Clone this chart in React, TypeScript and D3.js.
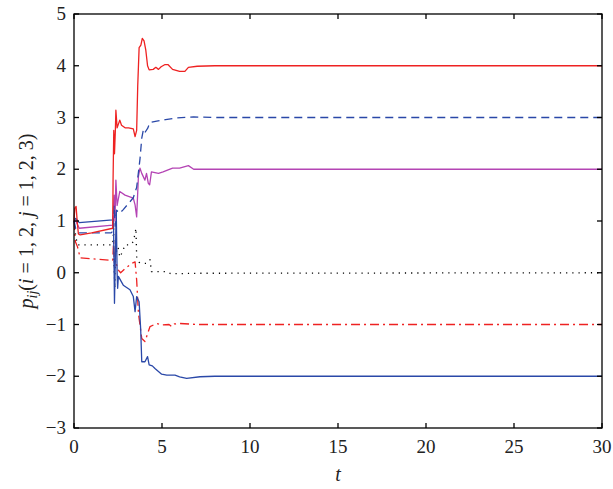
import React, { useEffect, useRef } from "react";
import * as d3 from "d3";

// t, value pairs
const redSolid: [number, number][] = [
  [0, 1.0], [0.05, 1.25], [0.12, 1.28], [0.18, 1.0], [0.25, 0.75], [0.35, 0.73], [1.0, 0.77], [2.2, 0.86],
  [2.22, 1.8], [2.26, 2.75], [2.3, 2.3], [2.35, 2.75], [2.38, 3.14], [2.45, 2.8], [2.6, 2.95], [2.7, 2.85],
  [2.9, 2.8], [3.1, 2.8], [3.37, 2.78], [3.47, 2.63], [3.56, 2.75], [3.62, 3.6], [3.7, 4.35], [3.8, 4.4],
  [3.88, 4.53], [3.98, 4.48], [4.08, 4.3], [4.18, 4.0], [4.27, 3.92], [4.5, 3.93], [4.65, 3.97], [4.8, 3.93],
  [4.95, 3.98], [5.15, 4.02], [5.35, 4.02], [5.6, 3.93], [6.0, 3.89], [6.3, 3.89], [6.5, 3.97], [7, 3.99],
  [8, 4.0], [30, 4.0],
];

const blueDashed: [number, number][] = [
  [0, 1.0], [0.1, 0.85], [0.3, 0.77], [2.1, 0.77], [2.2, 0.8], [2.28, 1.3], [2.34, 0.9], [2.42, 1.21],
  [2.6, 1.15], [2.8, 1.22], [3.0, 1.3], [3.37, 1.45], [3.56, 1.65], [3.75, 2.2], [3.85, 2.6], [3.95, 2.78],
  [4.05, 2.72], [4.2, 2.8], [4.3, 2.9], [4.7, 2.93], [5.2, 2.96], [5.8, 2.99], [6.8, 3.01], [8, 3.0], [30, 3.0],
];

const magenta: [number, number][] = [
  [0, 1.0], [0.1, 1.0], [0.3, 0.86], [2.2, 0.92], [2.28, 1.5], [2.33, 1.0], [2.38, 1.79], [2.45, 1.3],
  [2.6, 1.57], [2.9, 1.5], [3.37, 1.44], [3.47, 1.31], [3.56, 1.08], [3.66, 1.86], [3.75, 2.02], [3.85, 1.92],
  [4.03, 1.79], [4.12, 1.92], [4.22, 1.73], [4.3, 1.7], [4.4, 1.95], [4.8, 1.92], [5.06, 1.95], [5.6, 2.02],
  [6.0, 2.02], [6.5, 2.07], [6.8, 2.0], [7.5, 2.0], [30, 2.0],
];

const blueSolid: [number, number][] = [
  [0, 1.0], [0.1, 1.05], [0.3, 0.97], [2.2, 1.02], [2.24, 1.1], [2.27, 0.3], [2.3, -0.59], [2.35, 0.3],
  [2.4, 1.2], [2.45, 0.0], [2.48, -0.3], [2.52, -0.07], [2.8, -0.24], [3.18, -0.33], [3.37, -0.46],
  [3.47, -0.75], [3.56, -0.46], [3.7, -0.56], [3.79, -1.1], [3.85, -1.72], [4.03, -1.72], [4.18, -1.62],
  [4.27, -1.78], [4.45, -1.8], [4.6, -1.85], [4.98, -1.96], [5.27, -1.98], [5.74, -1.98], [6.0, -2.01],
  [6.4, -2.04], [7.16, -2.01], [8, -2.0], [30, -2.0],
];

const redDashDot: [number, number][] = [
  [0, 1.0], [0.08, 0.6], [0.2, 0.5], [0.35, 0.29], [1.0, 0.27], [2.2, 0.24], [2.25, 0.6], [2.3, 0.1],
  [2.33, 0.25], [2.52, 0.05], [2.65, 0.0], [2.9, 0.08], [3.27, 0.18], [3.47, 0.21], [3.56, -0.14],
  [3.66, -0.78], [3.85, -1.27], [4.03, -1.33], [4.32, -1.04], [4.7, -0.98], [5.0, -1.01], [5.4, -1.0],
  [5.55, -1.04], [5.7, -0.99], [6.0, -0.98], [7, -1.0], [30, -1.0],
];

const blackDotted: [number, number][] = [
  [0, 1.0], [0.1, 0.7], [0.2, 0.54], [2.2, 0.54], [2.25, 0.85], [2.28, 0.1], [2.32, -0.3], [2.36, 0.6],
  [2.4, 0.4], [2.5, 0.5], [2.6, 0.3], [2.75, 0.4], [2.9, 0.54], [3.2, 0.54], [3.37, 0.6], [3.47, 0.76],
  [3.52, 0.86], [3.56, 0.31], [3.7, 0.2], [3.85, 0.18], [4.13, 0.18], [4.32, 0.25], [4.4, 0.02],
  [5.3, 0.02], [5.5, -0.02], [7, -0.01], [30, 0.0],
];

const xTicks = [0, 5, 10, 15, 20, 25, 30];
const yTicks = [-3, -2, -1, 0, 1, 2, 3, 4, 5];

const series = [
  { data: blackDotted, color: "#000000", dash: "1.2,5" },
  { data: redDashDot, color: "#ee2222", dash: "9,4,2,4" },
  { data: blueSolid, color: "#2a48a8", dash: null },
  { data: magenta, color: "#b444b4", dash: null },
  { data: blueDashed, color: "#2a48a8", dash: "8,5" },
  { data: redSolid, color: "#ee2222", dash: null },
];

const App = () => {
  const ref = useRef<SVGSVGElement>(null);

  useEffect(() => {
    const svg = d3.select(ref.current);
    svg.selectAll("*").remove();

    const width = 613;
    const height = 489;
    const margin = { top: 14, right: 11, bottom: 61, left: 74 };
    const font = "Liberation Serif, Times New Roman, serif";

    const x = d3.scaleLinear().domain([0, 30]).range([margin.left, width - margin.right]);
    const y = d3.scaleLinear().domain([-3, 5]).range([height - margin.bottom, margin.top]);

    svg.append("rect").attr("width", width).attr("height", height).attr("fill", "#fff");

    const line = d3.line<[number, number]>().x((d) => x(d[0])).y((d) => y(d[1]));

    series.forEach((s) => {
      svg
        .append("path")
        .datum(s.data)
        .attr("fill", "none")
        .attr("stroke", s.color)
        .attr("stroke-width", 1.3)
        .attr("stroke-dasharray", s.dash)
        .attr("stroke-linejoin", "round")
        .attr("d", line);
    });

    // box with inward ticks on all sides
    const tk = 5;
    const axes = svg.append("g").attr("stroke", "#000").attr("stroke-width", 1.3);
    axes
      .append("rect")
      .attr("x", x(0))
      .attr("y", y(5))
      .attr("width", x(30) - x(0))
      .attr("height", y(-3) - y(5))
      .attr("fill", "none");
    xTicks.forEach((t) => {
      axes.append("line").attr("x1", x(t)).attr("x2", x(t)).attr("y1", y(-3)).attr("y2", y(-3) - tk);
      axes.append("line").attr("x1", x(t)).attr("x2", x(t)).attr("y1", y(5)).attr("y2", y(5) + tk);
    });
    yTicks.forEach((v) => {
      axes.append("line").attr("x1", x(0)).attr("x2", x(0) + tk).attr("y1", y(v)).attr("y2", y(v));
      axes.append("line").attr("x1", x(30)).attr("x2", x(30) - tk).attr("y1", y(v)).attr("y2", y(v));
    });

    svg
      .append("g")
      .selectAll("text")
      .data(xTicks)
      .join("text")
      .attr("x", (d) => x(d))
      .attr("y", y(-3) + 25)
      .attr("text-anchor", "middle")
      .attr("font-family", font)
      .attr("font-size", 19)
      .attr("fill", "#222")
      .text((d) => String(d));

    svg
      .append("g")
      .selectAll("text")
      .data(yTicks)
      .join("text")
      .attr("x", x(0) - 8)
      .attr("y", (d) => y(d) + 6)
      .attr("text-anchor", "end")
      .attr("font-family", font)
      .attr("font-size", 19)
      .attr("fill", "#222")
      .text((d) => (d < 0 ? "\u2212" + Math.abs(d) : String(d)));

    svg
      .append("text")
      .attr("x", (x(0) + x(30)) / 2)
      .attr("y", 481)
      .attr("text-anchor", "middle")
      .attr("font-family", font)
      .attr("font-size", 20)
      .attr("font-style", "italic")
      .attr("fill", "#222")
      .text("t");

    const yl = svg
      .append("text")
      .attr("transform", `translate(33,${(y(5) + y(-3)) / 2}) rotate(-90)`)
      .attr("text-anchor", "middle")
      .attr("font-family", font)
      .attr("font-size", 20)
      .attr("fill", "#222");
    yl.append("tspan").attr("font-style", "italic").text("p");
    yl.append("tspan").attr("font-style", "italic").attr("font-size", 14).attr("dy", 4).text("ij");
    yl.append("tspan").attr("dy", -4).text("(");
    yl.append("tspan").attr("font-style", "italic").text("i");
    yl.append("tspan").text(" = 1, 2, ");
    yl.append("tspan").attr("font-style", "italic").text("j");
    yl.append("tspan").text(" = 1, 2, 3)");
  }, []);

  return (
    <svg
      ref={ref}
      width={613}
      height={489}
      style={{ position: "absolute", left: 0, top: 0 }}
    />
  );
};

export default App;
